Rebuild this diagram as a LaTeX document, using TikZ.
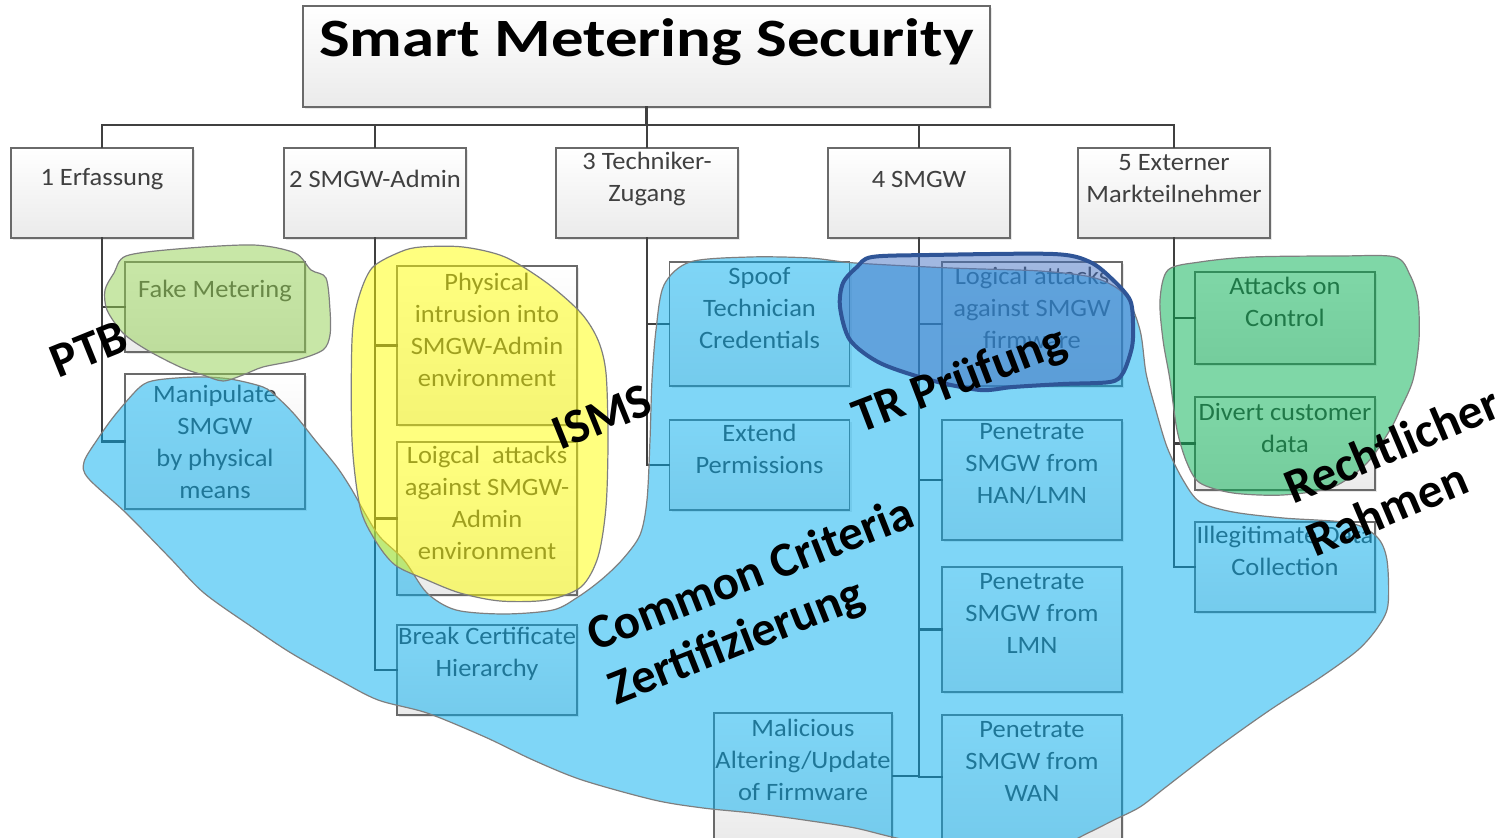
\documentclass[tikz,border=0pt]{standalone}
\usepackage{fontspec}
\setmainfont{Carlito}
\usetikzlibrary{shadows}

\definecolor{treeline}{HTML}{404040}
\definecolor{boxline}{HTML}{6A6A6A}
\definecolor{boxtext}{HTML}{404040}
\definecolor{blobline}{HTML}{7F7F7F}
\definecolor{ccblue}{HTML}{00ADEF}
\definecolor{ismsyellow}{HTML}{FFFF00}
\definecolor{ptbgreen}{HTML}{92D050}
\definecolor{lawgreen}{HTML}{00B050}
\definecolor{trfill}{HTML}{4472C4}
\definecolor{trline}{HTML}{2F5597}

\tikzset{
	box/.style={draw=boxline, line width=0.8pt, top color=white, bottom color=black!8, inner sep=0pt, drop shadow={shadow xshift=1.2pt, shadow yshift=-1.2pt, opacity=0.18}},
	head/.style={box, minimum width=91pt, minimum height=45pt},
	leaf/.style={box, minimum width=90pt, minimum height=#1},
	% text sits a bit above the middle of each box
	txt/.style={align=center, inner sep=0pt, text=boxtext, font=\fontsize{12.5}{16}\selectfont, xscale=1.06, yshift=#1},
	txt/.default=8pt,
	blob/.style={draw=blobline, line width=0.6pt, fill opacity=0.5},
	tag/.style={inner sep=0pt, align=left, font=\fontsize{24.5}{28.5}\selectfont\bfseries},
}

\begin{document}
\begin{tikzpicture}[x=0.5pt, y=-0.5pt]
	\useasboundingbox (0,0) rectangle (1512,838);
	\clip (0,0) rectangle (1512,838);
	
	\node (title) [box, minimum width=343.5pt, minimum height=50.5pt, label={[align=center, inner sep=0pt, yshift=7pt, xscale=1.2, font=\fontsize{27}{30}\selectfont\bfseries]center:Smart Metering Security}] at (646.5,56.5) {};
	
	\node (c1) [head, label={[txt=7pt]center:1 Erfassung}] at (102,193) {};
	\node (c2) [head, label={[txt=7pt]center:2 SMGW-Admin}] at (375,193) {};
	\node (c3) [head, label={[txt=7pt]center:{3 Techniker-\\Zugang}}] at (647,193) {};
	\node (c4) [head, label={[txt=7pt]center:4 SMGW}] at (919,193) {};
	\node (c5) [head, minimum width=96pt, label={[txt=7pt]center:{5 Externer\\Markteilnehmer}}] at (1174,193) {};
	
	\node (fake) [leaf=45pt, label={[txt]center:Fake Metering}] at (215,307) {};
	\node (manip) [leaf=67.5pt, label={[txt=0pt]center:{Manipulate\\SMGW\\by physical\\means}}] at (215,441.5) {};
	
	\node (phys) [leaf=79.5pt, label={[txt]center:{Physical\\intrusion into\\SMGW-Admin\\environment}}] at (487,345.5) {};
	\node (loig) [leaf=76.5pt, label={[txt]center:{Loigcal\ \ attacks\\against SMGW-\\Admin\\environment}}] at (487,518.5) {};
	\node (brk) [leaf=45pt, label={[txt]center:{Break Certificate\\Hierarchy}}] at (487,670) {};
	
	\node (spoof) [leaf=62pt, label={[txt]center:{Spoof\\Technician\\Credentials}}] at (759.5,324) {};
	\node (extend) [leaf=45pt, label={[txt]center:{Extend\\Permissions}}] at (759.5,465) {};
	
	\node (logfw) [leaf=62pt, label={[txt]center:{Logical attacks\\against SMGW\\firmware}}] at (1032,324) {};
	\node (han) [leaf=60pt, label={[txt]center:{Penetrate\\SMGW from\\HAN/LMN}}] at (1032,480) {};
	\node (lmn) [leaf=62.5pt, label={[txt]center:{Penetrate\\SMGW from\\LMN}}] at (1032,629.5) {};
	\node (wan) [leaf=62pt, label={[txt]center:{Penetrate\\SMGW from\\WAN}}] at (1032,777) {};
	\node (mal) [leaf=63pt, minimum width=89pt, label={[txt]center:{Malicious\\Altering/Update\\of Firmware}}] at (803,776) {};
	
	\node (ctrl) [leaf=46pt, label={[txt]center:{Attacks on\\Control}}] at (1285,318) {};
	\node (divert) [leaf=46.5pt, label={[txt]center:{Divert customer\\data}}] at (1285,443.5) {};
	\node (illeg) [leaf=45pt, label={[txt]center:{Illegitimate Data\\Collection}}] at (1285,567) {};
	
	\coordinate (bus) at (0,125);
	
	\begin{scope}[draw=treeline, line width=1.3pt, line cap=rect]
		\draw (title.south) -- (title.south |- bus);
		\draw (c1.north |- bus) -- (c5.north |- bus);
		\foreach \c in {c1,c2,c3,c4,c5}
			\draw (\c.north) -- (\c.north |- bus);
		\foreach \p/\k in {c1/fake, c1/manip, c2/phys, c2/loig, c2/brk, c3/spoof, c3/extend, c4/logfw, c4/han, c4/lmn, c4/wan, c5/ctrl, c5/divert, c5/illeg}
			\draw (\p.south) |- (\k.west);
		\draw (c4.south) |- (mal.east);
	\end{scope}
	
	% hand drawn areas
	\draw[blob, fill=ccblue] plot[smooth cycle] coordinates {(84,462) (97,440) (115,415) (140,387) (157,380) (197,377) (230,379) (263,387) (277,397) (295,415) (315,440) (337,467) (352,490) (366,515) (380,537) (404,560) (427,593) (456,610) (504,614) (553,610) (578,597) (601,580) (622,560) (640,535) (647,500) (650,440) (652,380) (656,330) (664,285) (690,262) (750,257) (810,258) (855,263) (950,268) (1040,271) (1095,278) (1125,295) (1140,330) (1146,373) (1155,407) (1167,447) (1183,480) (1200,502) (1233,512) (1283,518) (1350,523) (1377,537) (1387,560) (1388,605) (1378,627) (1358,650) (1321,677) (1270,710) (1218,747) (1166,787) (1140,807) (1114,820) (1088,833) (1060,845) (1000,852) (907,840) (855,828) (804,820) (752,813) (703,808) (654,800) (582,780) (533,760) (485,737) (427,713) (378,700) (339,680) (291,653) (252,627) (204,593) (170,558) (126,513) (88,478)};
	\draw[blob, fill=ptbgreen] plot[smooth cycle] coordinates {(114,273) (126,256) (177,249) (253,245) (295,253) (311,270) (326,278) (330,310) (330,335) (323,350) (297,360) (263,367) (243,375) (223,381) (203,375) (180,367) (147,350) (123,333) (107,310) (105,290)};
	\draw[blob, fill=ismsyellow] plot[smooth cycle] coordinates {(400,252) (421,247) (463,247) (505,257) (547,283) (581,313) (598,340) (606,373) (608,440) (606,507) (598,557) (581,587) (547,600) (500,601) (460,593) (427,580) (395,565) (375,540) (360,507) (352,440) (352,340) (358,300) (372,268)};
	\draw[blob, fill=lawgreen] plot[smooth cycle] coordinates {(1168,270) (1200,262) (1252,257) (1340,256) (1395,257) (1410,275) (1418,300) (1419,340) (1413,380) (1400,410) (1390,430) (1367,463) (1333,487) (1283,495) (1233,493) (1200,483) (1187,463) (1177,430) (1170,380) (1163,340) (1160,300)};
	\draw[draw=trline, line width=2pt, fill=trfill, fill opacity=0.5] plot[smooth cycle] coordinates {(857,267) (872,257) (930,255) (1053,254) (1090,262) (1113,280) (1130,300) (1133,323) (1132,347) (1123,373) (1110,382) (1063,384) (1013,387) (980,390) (930,380) (880,363) (850,340) (840,307) (843,283)};
	
	\node (ptb) [tag, rotate=22] at (89,349) {PTB};
	\node (isms) [tag, rotate=22] at (602,417) {ISMS};
	\node (tr) [tag, rotate=21] at (960,381) {TR Prüfung};
	\node (cc) [tag, rotate=21.5] at (762,603) {Common Criteria\\Zertifizierung};
	\node (law) [tag, rotate=23] at (1403,471) {Rechtlicher\\Rahmen};
\end{tikzpicture}
\end{document}
